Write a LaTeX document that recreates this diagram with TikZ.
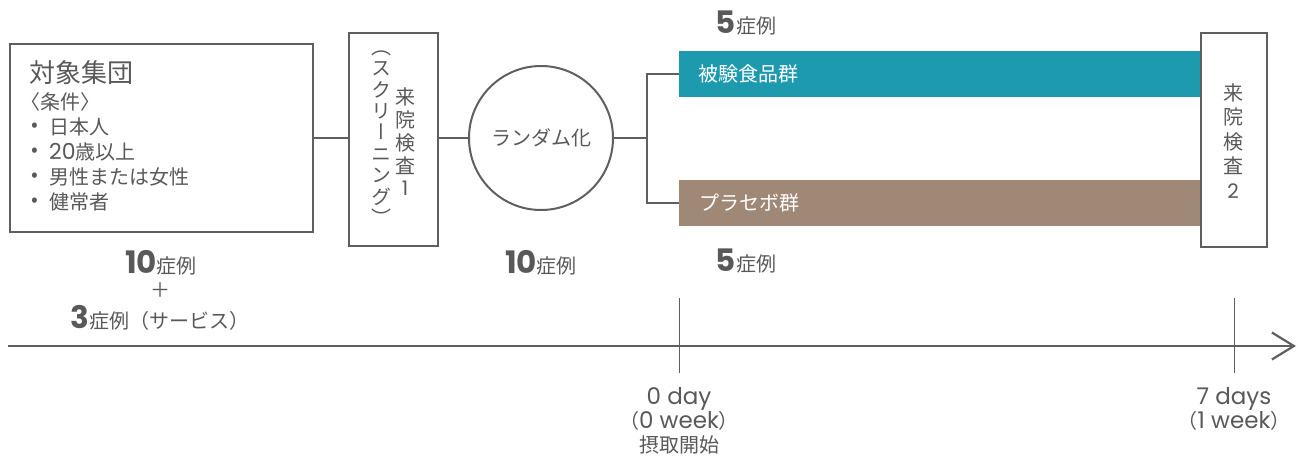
\documentclass[tikz,border=0pt]{standalone}
\usepackage{fontspec}
\setmainfont{Noto Sans CJK JP}
\newfontfamily\vertfont[RawFeature=+vert]{Noto Sans CJK JP}
\newfontfamily\latin{Poppins}
\usetikzlibrary{arrows.meta}
\definecolor{txtgray}{HTML}{595959}
\definecolor{linegray}{HTML}{5F5F5F}
\definecolor{testteal}{HTML}{1E9AAE}
\definecolor{placebobrown}{HTML}{A08876}
\newcommand{\casenum}[1]{{\latin\bfseries\fontsize{31}{31}\selectfont #1}}
\newcommand{\wlatin}[1]{{\latin\fontsize{23}{24}\selectfont #1}}

\begin{document}
\begin{tikzpicture}[x=1pt, y=-1pt,
    every node/.style={text=txtgray, inner sep=0pt, font=\fontsize{20}{24}\selectfont},
    frame/.style={draw=linegray, line width=2pt, fill=white},
    link/.style={draw=linegray, line width=1.5pt},
    bar/.style={minimum width=522pt, minimum height=46pt, anchor=north west},
    axis/.style={draw=linegray, line width=2.5pt},
    tick/.style={draw=linegray, line width=1pt},
    axislabel/.style={align=center, font=\fontsize{20}{24}\selectfont}]
        \useasboundingbox (0,0) rectangle (1298,461);

        % target group
        \node[frame, minimum width=303pt, minimum height=188pt] (group) at (161.5,138) {};
        \node[anchor=west, font=\fontsize{26}{30}\selectfont] (grouptitle) at (29,73) {対象集団};
        \node[anchor=west] (cond) at (20,102) {〈条件〉};
        \node (dot1) at (35,127) {•};
        \node[anchor=west] (cond1) at (49,127) {日本人};
        \node (dot2) at (35,152) {•};
        \node[anchor=west] (cond2) at (49,152) {{\latin\fontsize{22}{24}\selectfont 20}歳以上};
        \node (dot3) at (35,177) {•};
        \node[anchor=west] (cond3) at (49,177) {男性または女性};
        \node (dot4) at (35,202) {•};
        \node[anchor=west] (cond4) at (49,202) {健常者};

        % visits
        \node[frame, minimum width=89pt, minimum height=213pt] (screen) at (393.5,139.5) {};
        \node[align=center, font=\vertfont\fontsize{20}{21.4}\selectfont] (screennote) at (381,138) {（\\ス\\ク\\リ\\ー\\ニ\\ン\\グ\\）};
        \node[align=center, font=\fontsize{20}{22.75}\selectfont] (screenlabel) at (405,142) {来\\院\\検\\査\\{\latin 1}};

        \node[circle, draw=linegray, line width=2pt, minimum size=144pt] (rand) at (541,138) {ランダム化};
        \coordinate (split) at (647,138);

        \node[bar, fill=testteal] (test) at (679,51) {};
        \node[anchor=west, text=white] (testlabel) at (698,74) {被験食品群};
        \node[bar, fill=placebobrown] (placebo) at (679,180) {};
        \node[anchor=west, text=white] (placebolabel) at (699,203) {プラセボ群};

        \node[frame, minimum width=66pt, minimum height=214pt] (visit2) at (1234,140) {};
        \node[align=center, font=\fontsize{20}{24.5}\selectfont] (visit2label) at (1233,141) {来\\院\\検\\査\\{\latin 2}};

        \draw[link] (group.east) -- (group.east -| screen.west);
        \draw[link] (screen.east |- rand.west) -- (rand.west);
        \draw[link] (rand.east) -- (split);
        \draw[link] (test.west) -| (split) |- (placebo.west);

        % case counts
        \node (ngroup) at (161,263) {\casenum{10}症例};
        \node (nplus) at (160,290) {＋};
        \node (nservice) at (160,318) {\casenum{3}症例（サービス）};
        \node (nrand) at (541,263) {\casenum{10}症例};
        \node (ntest) at (746,23) {\casenum{5}症例};
        \node (nplacebo) at (746,261) {\casenum{5}症例};

        % time axis
        \coordinate (tstart) at (8,346);
        \coordinate (tend) at (1296,346);
        \draw[axis, -{Straight Barb[length=22pt, width=27pt, line width=2.2pt]}] (tstart) -- (tend);
        \coordinate (day0top) at (679,298);
        \coordinate (day0bot) at (679,373);
        \coordinate (day7top) at (1234,298);
        \coordinate (day7bot) at (1234,373);
        \draw[tick] (day0top) -- (day0bot);
        \draw[tick] (day7top) -- (day7bot);

        \node[axislabel, anchor=north] (day0) at (679,387) {\wlatin{0 day}\\（\wlatin{0 week}）\\摂取開始};
        \node[axislabel, anchor=north] (day7) at (1234,387) {\wlatin{7 days}\\（\wlatin{1 week}）};
\end{tikzpicture}
\end{document}
